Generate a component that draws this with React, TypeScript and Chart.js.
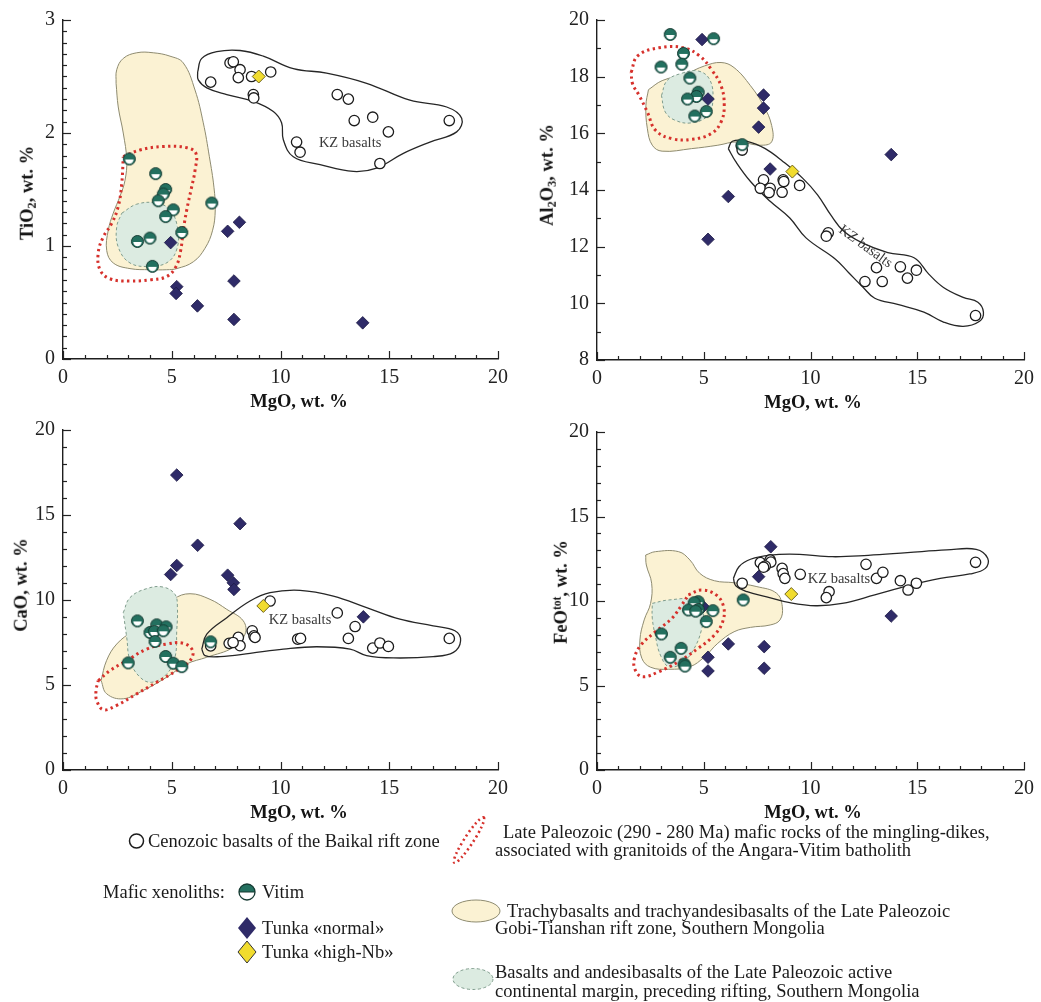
import React, { useEffect, useRef } from 'react';
import { Chart, registerables } from 'chart.js';

Chart.register(...registerables);

type Pair = [number, number];

const SERIF = '"Liberation Serif", "Times New Roman", Times, serif';

// ---------- MgO vs TiO2 ----------
const tiCenozoic: Pair[] = [
  [6.79, 2.45], [7.68, 2.62], [7.83, 2.63], [8.14, 2.56], [8.06, 2.49], [8.67, 2.5], [9.55, 2.54],
  [8.75, 2.34], [8.77, 2.31], [12.61, 2.34], [13.12, 2.3], [13.39, 2.11], [14.24, 2.14], [14.96, 2.01],
  [17.76, 2.11], [10.74, 1.92], [10.9, 1.83], [14.57, 1.73],
];
const tiVitim: Pair[] = [
  [3.05, 1.77], [4.26, 1.64], [4.72, 1.5], [4.61, 1.46], [4.38, 1.4], [5.07, 1.32], [4.72, 1.26],
  [6.84, 1.38], [5.46, 1.12], [3.42, 1.04], [4.0, 1.07], [4.11, 0.82],
];
const tiTunkaNormal: Pair[] = [
  [4.95, 1.03], [7.57, 1.13], [8.11, 1.21], [7.86, 0.69], [5.23, 0.64], [5.2, 0.58], [6.18, 0.47],
  [7.86, 0.35], [13.78, 0.32],
];
const tiTunkaHighNb: Pair[] = [[9.0, 2.5]];
const tiRiftField: Pair[] = [
  [2.44, 2.44], [2.47, 2.56], [2.77, 2.66], [3.39, 2.71], [4.15, 2.71], [4.92, 2.68], [5.53, 2.62],
  [6.07, 2.38], [6.45, 2.09], [6.73, 1.79], [6.94, 1.52], [7.0, 1.32], [6.88, 1.14], [6.53, 0.98],
  [5.99, 0.86], [5.23, 0.8], [4.77, 0.79], [4.0, 0.79], [3.08, 0.8], [2.31, 0.85], [2.01, 0.96],
  [2.08, 1.14], [2.31, 1.29], [2.62, 1.44], [2.85, 1.58], [2.93, 1.76], [2.77, 2.0], [2.54, 2.23],
  [2.44, 2.44],
];
const tiActiveMargin: Pair[] = [
  [2.7, 1.29], [3.39, 1.37], [4.31, 1.38], [4.92, 1.32], [5.26, 1.17], [5.26, 0.99], [4.84, 0.86],
  [4.0, 0.82], [3.08, 0.85], [2.54, 0.99], [2.47, 1.17], [2.7, 1.29],
];
const tiMinglingDikes: Pair[] = [
  [2.77, 1.79], [3.54, 1.85], [4.61, 1.88], [5.69, 1.87], [6.11, 1.82], [6.07, 1.67], [5.89, 1.5],
  [5.69, 1.32], [5.53, 1.14], [5.41, 0.96], [5.2, 0.82], [4.77, 0.73], [4.0, 0.7], [3.08, 0.69],
  [2.16, 0.71], [1.7, 0.79], [1.62, 0.94], [1.85, 1.08], [2.24, 1.2], [2.54, 1.35], [2.7, 1.55],
  [2.77, 1.79],
];
const tiKZ: Pair[] = [
  [6.19, 2.54], [6.38, 2.66], [7.07, 2.72], [8.14, 2.73], [9.21, 2.68], [10.59, 2.57], [12.12, 2.53],
  [13.96, 2.44], [15.95, 2.29], [17.64, 2.23], [18.33, 2.13], [18.1, 2.01], [16.87, 1.92], [15.65, 1.82],
  [14.42, 1.69], [13.35, 1.66], [11.82, 1.72], [10.59, 1.79], [10.13, 1.94], [10.05, 2.09], [9.67, 2.19],
  [8.75, 2.28], [7.53, 2.34], [6.61, 2.4], [6.22, 2.47], [6.19, 2.54],
];

// ---------- MgO vs Al2O3 ----------
const alCenozoic: Pair[] = [
  [6.76, 15.56], [6.8, 15.41], [7.8, 14.36], [7.65, 14.06], [8.11, 14.06], [8.06, 13.91], [8.72, 14.36],
  [8.75, 14.3], [8.67, 13.92], [9.49, 14.16], [10.83, 12.49], [10.74, 12.37], [13.09, 11.26],
  [12.55, 10.77], [13.36, 10.77], [14.21, 11.29], [14.54, 10.89], [14.96, 11.17], [17.73, 9.57],
];
const alVitim: Pair[] = [
  [3.43, 19.49], [5.46, 19.34], [4.05, 18.82], [3.0, 18.34], [3.97, 18.44], [4.35, 17.95], [4.74, 17.45],
  [4.66, 17.3], [4.24, 17.21], [5.12, 16.77], [4.58, 16.61], [6.8, 15.6],
];
const alTunkaNormal: Pair[] = [
  [4.92, 19.31], [5.2, 17.21], [7.8, 17.35], [7.8, 16.89], [7.57, 16.22], [8.11, 14.74], [6.15, 13.77],
  [5.2, 12.26], [13.78, 15.25],
];
const alTunkaHighNb: Pair[] = [[9.15, 14.65]];
const alRiftField: Pair[] = [
  [2.41, 17.54], [3.05, 17.86], [4.12, 18.09], [5.04, 18.38], [5.81, 18.5], [6.42, 18.32], [7.19, 17.68],
  [7.8, 16.98], [8.18, 16.28], [8.18, 15.7], [7.65, 15.58], [6.57, 15.7], [5.66, 15.58], [4.43, 15.46],
  [3.05, 15.37], [2.59, 15.58], [2.36, 16.16], [2.29, 16.98], [2.41, 17.54],
];
const alActiveMargin: Pair[] = [
  [3.02, 17.33], [3.28, 17.86], [3.97, 18.12], [4.74, 18.2], [5.27, 17.91], [5.43, 17.21], [5.2, 16.63],
  [4.43, 16.37], [3.66, 16.46], [3.2, 16.75], [3.02, 17.33],
];
const alMinglingDikes: Pair[] = [
  [1.6, 18.15], [1.9, 18.73], [2.9, 19.02], [4.05, 19.02], [4.81, 18.73], [5.35, 18.26], [5.81, 17.68],
  [5.96, 16.98], [5.81, 16.4], [5.35, 15.99], [4.43, 15.79], [3.51, 15.81], [2.74, 16.11], [2.36, 16.75],
  [1.98, 17.33], [1.67, 17.74], [1.6, 18.15],
];
const alKZ: Pair[] = [
  [6.15, 15.46], [6.34, 15.72], [7.03, 15.72], [7.88, 15.46], [8.72, 15.0], [9.64, 14.41], [10.33, 13.83],
  [10.94, 13.13], [11.55, 12.55], [12.4, 12.14], [13.62, 11.79], [14.85, 11.61], [15.54, 11.03],
  [16.23, 10.56], [17.15, 10.21], [17.84, 10.04], [18.1, 9.69], [17.92, 9.37], [17.15, 9.19], [16.23, 9.34],
  [15.31, 9.69], [14.08, 9.96], [13.01, 10.18], [12.47, 10.56], [11.78, 11.09], [11.17, 11.56],
  [9.79, 12.31], [9.03, 13.01], [8.11, 13.6], [7.19, 14.3], [6.5, 15.0], [6.15, 15.46],
];

// ---------- MgO vs CaO ----------
const caCenozoic: Pair[] = [
  [9.52, 9.94], [12.61, 9.24], [13.43, 8.44], [13.12, 7.74], [14.24, 7.17], [14.57, 7.47], [14.96, 7.27],
  [17.76, 7.74], [10.79, 7.7], [10.92, 7.74], [8.7, 8.19], [8.78, 7.89], [8.83, 7.8], [8.06, 7.8],
  [8.14, 7.31], [7.64, 7.45], [7.82, 7.5], [6.79, 7.3],
];
const caVitim: Pair[] = [
  [3.42, 8.77], [4.31, 8.54], [4.74, 8.42], [4.0, 8.09], [4.2, 8.15], [4.61, 8.19], [4.23, 7.56],
  [3.0, 6.3], [4.72, 6.68], [5.07, 6.28], [5.46, 6.08], [6.79, 7.54],
];
const caTunkaNormal: Pair[] = [
  [5.23, 17.35], [8.14, 14.49], [6.19, 13.22], [5.23, 12.03], [4.95, 11.5], [7.57, 11.46], [7.83, 11.01],
  [7.86, 10.62], [13.81, 9.01],
];
const caTunkaHighNb: Pair[] = [[9.21, 9.65]];
const caRiftField: Pair[] = [
  [1.75, 5.26], [2.0, 6.43], [2.47, 7.41], [3.23, 8.19], [4.15, 8.96], [5.07, 10.04], [5.84, 10.37],
  [6.76, 10.04], [7.53, 9.45], [8.29, 8.77], [8.37, 7.99], [7.83, 7.21], [6.61, 6.63], [5.69, 6.24],
  [4.77, 5.46], [3.69, 4.68], [2.77, 4.19], [2.01, 4.48], [1.75, 5.26],
];
const caActiveMargin: Pair[] = [
  [2.77, 9.25], [3.08, 10.14], [3.85, 10.67], [4.61, 10.76], [5.15, 10.33], [5.26, 9.55], [5.23, 8.19],
  [5.15, 6.63], [4.77, 5.65], [4.08, 5.16], [3.54, 5.46], [3.08, 6.43], [2.93, 7.8], [2.77, 9.25],
];
const caMinglingDikes: Pair[] = [
  [1.62, 5.26], [2.16, 5.85], [2.93, 6.43], [3.85, 7.11], [4.77, 7.41], [5.53, 7.45], [5.96, 7.02],
  [5.84, 6.43], [5.23, 5.85], [4.31, 5.16], [3.39, 4.48], [2.47, 3.8], [1.85, 3.55], [1.55, 4.09],
  [1.52, 4.68], [1.62, 5.26],
];
const caKZ: Pair[] = [
  [6.38, 7.11], [6.61, 7.99], [7.53, 8.96], [8.6, 9.94], [9.52, 10.43], [10.9, 10.57], [12.43, 10.23],
  [13.96, 9.55], [15.49, 8.87], [17.02, 8.48], [18.02, 8.19], [18.28, 7.6], [17.95, 6.92], [17.02, 6.67],
  [15.19, 6.59], [13.96, 6.73], [13.2, 7.11], [11.66, 7.25], [10.13, 7.11], [8.6, 6.86], [7.22, 6.67],
  [6.53, 6.73], [6.38, 7.11],
];

// ---------- MgO vs FeOtot ----------
const feCenozoic: Pair[] = [
  [7.65, 12.27], [8.11, 12.43], [8.14, 12.3], [7.88, 12.07], [7.8, 12.0], [8.67, 11.93], [8.72, 11.62],
  [8.8, 11.34], [9.52, 11.58], [6.8, 11.05], [12.6, 12.17], [13.09, 11.34], [13.39, 11.7], [14.21, 11.2],
  [14.57, 10.65], [14.96, 11.05], [17.73, 12.29], [10.87, 10.55], [10.74, 10.2],
];
const feVitim: Pair[] = [
  [4.74, 9.96], [4.55, 9.9], [4.28, 9.47], [4.74, 9.5], [4.62, 9.4], [5.43, 9.43], [5.12, 8.78],
  [6.85, 10.06], [3.02, 8.05], [3.94, 7.2], [3.43, 6.67], [4.08, 6.27], [4.12, 6.15],
];
const feTunkaNormal: Pair[] = [
  [8.14, 13.21], [7.57, 11.44], [13.78, 9.11], [6.15, 7.46], [7.83, 7.3], [5.2, 6.67], [5.2, 5.86],
  [7.83, 6.02], [4.97, 9.67],
];
const feTunkaHighNb: Pair[] = [[9.1, 10.41]];
const feRiftField: Pair[] = [
  [2.28, 12.72], [2.74, 12.92], [3.82, 12.92], [4.35, 12.43], [4.81, 11.64], [5.5, 11.2], [6.42, 11.08],
  [7.49, 10.85], [8.41, 10.46], [8.68, 9.66], [8.57, 8.88], [8.11, 8.58], [7.19, 8.44], [6.42, 8.18],
  [5.66, 7.5], [5.04, 6.7], [4.35, 6.11], [3.36, 5.96], [2.51, 6.08], [2.1, 6.61], [2.01, 7.69],
  [2.21, 8.88], [2.51, 9.86], [2.56, 11.05], [2.31, 12.13], [2.28, 12.72],
];
const feActiveMargin: Pair[] = [
  [2.59, 9.86], [3.36, 10.06], [4.58, 10.06], [4.97, 9.37], [4.89, 8.28], [4.51, 7.1], [3.97, 6.31],
  [3.36, 6.11], [2.97, 6.8], [2.74, 7.89], [2.59, 8.98], [2.59, 9.86],
];
const feMinglingDikes: Pair[] = [
  [4.28, 10.36], [4.89, 10.65], [5.58, 10.36], [5.93, 9.66], [5.89, 8.78], [5.5, 7.99], [4.74, 7.2],
  [3.82, 6.41], [2.9, 5.82], [2.13, 5.52], [1.79, 5.92], [1.75, 6.61], [2.06, 7.4], [2.74, 8.18],
  [3.51, 8.98], [3.97, 9.76], [4.28, 10.36],
];
const feKZ: Pair[] = [
  [6.39, 11.34], [6.65, 12.03], [7.19, 12.47], [8.11, 12.72], [9.49, 12.76], [11.02, 12.62], [12.7, 12.7],
  [14.54, 12.86], [16.38, 13.02], [17.76, 13.06], [18.3, 12.53], [18.19, 11.93], [17.46, 11.6],
  [16.08, 11.34], [14.54, 10.89], [13.01, 10.36], [11.48, 9.86], [10.25, 9.72], [9.03, 9.9], [7.95, 10.25],
  [7.03, 10.55], [6.5, 10.9], [6.39, 11.34],
];

// Axis ranges and tick steps (y) per panel
const tiAxis = { min: 0, max: 3, step: 1, minor: 0.1 };
const alAxis = { min: 8, max: 20, step: 2, minor: 1 };
const caAxis = { min: 0, max: 20, step: 5, minor: 1 };
const feAxis = { min: 0, max: 20, step: 5, minor: 1 };
const mgoAxis = { min: 0, max: 20, step: 5, minor: 1 };

// Anchor of the "KZ basalts" caption (data units) and its angle
const tiKzCaption = { x: 13.2, y: 1.91, rot: 0 };
const alKzCaption = { x: 12.58, y: 12.0, rot: 36 };
const caKzCaption = { x: 10.9, y: 8.83, rot: 0 };
const feKzCaption = { x: 11.33, y: 11.28, rot: 0 };

const COLORS = {
  teal: '#23705f',
  tealEdge: '#163a32',
  navy: '#2f2b68',
  yellow: '#f1dc2e',
  riftFill: '#fbf2d3',
  riftEdge: '#8e8b70',
  marginFill: '#dcebe1',
  marginEdge: '#7f9c8c',
  dikes: '#d6312c',
  ink: '#1c1c1c',
};

const xy = (a: Pair[]) => a.map(([x, y]) => ({ x, y }));

let vitimImage: HTMLCanvasElement | null = null;
function vitimMarker(): HTMLCanvasElement {
  if (vitimImage) return vitimImage;
  const c = document.createElement('canvas');
  const s = 15;
  c.width = s;
  c.height = s;
  const g = c.getContext('2d')!;
  const cx = s / 2;
  const cy = s / 2;
  const r = 6;
  g.beginPath();
  g.arc(cx, cy, r, 0, Math.PI * 2);
  g.fillStyle = COLORS.teal;
  g.fill();
  g.beginPath();
  g.arc(cx, cy + 0.6, r - 1.8, 0, Math.PI);
  g.closePath();
  g.fillStyle = '#ffffff';
  g.fill();
  g.beginPath();
  g.arc(cx, cy, r, 0, Math.PI * 2);
  g.lineWidth = 1;
  g.strokeStyle = COLORS.tealEdge;
  g.stroke();
  vitimImage = c;
  return c;
}

interface Series {
  cenozoic: Pair[];
  vitim: Pair[];
  tunkaNormal: Pair[];
  tunkaHighNb: Pair[];
  rift: Pair[];
  margin: Pair[];
  dikes: Pair[];
  kz: Pair[];
}

interface PanelLayout {
  left: number;
  top: number;
  width: number;
  height: number;
  padTop: number;
  padRight: number;
  yAxisWidth: number;
  xAxisHeight: number;
}

function buildConfig(
  s: Series,
  yAxis: { min: number; max: number; step: number; minor: number },
  caption: { x: number; y: number; rot: number },
  lay: PanelLayout,
): any {
  const region = (data: Pair[], extra: any) => ({
    data: xy(data),
    showLine: true,
    pointRadius: 0,
    pointHoverRadius: 0,
    tension: 0.4,
    cubicInterpolationMode: 'default',
    ...extra,
  });

  const axisDecor = {
    id: 'axisDecor',
    beforeDatasetsDraw(chart: any) {
      const { ctx } = chart;
      const xs = chart.scales.x;
      const ys = chart.scales.y;
      ctx.save();
      ctx.fillStyle = '#3a3a3a';
      ctx.font = `14.5px ${SERIF}`;
      ctx.textAlign = 'center';
      ctx.textBaseline = 'middle';
      ctx.translate(xs.getPixelForValue(caption.x), ys.getPixelForValue(caption.y));
      ctx.rotate((caption.rot * Math.PI) / 180);
      ctx.fillText('KZ basalts', 0, 0);
      ctx.restore();
    },
    afterDatasetsDraw(chart: any) {
      const { ctx, chartArea: a } = chart;
      const xs = chart.scales.x;
      const ys = chart.scales.y;
      ctx.save();
      ctx.strokeStyle = '#222';
      ctx.lineWidth = 1.2;
      const nx = Math.round((mgoAxis.max - mgoAxis.min) / mgoAxis.minor);
      for (let k = 0; k <= nx; k++) {
        const v = mgoAxis.min + k * mgoAxis.minor;
        const major = Math.abs(v / mgoAxis.step - Math.round(v / mgoAxis.step)) < 1e-6;
        const px = Math.round(xs.getPixelForValue(v)) + 0.5;
        ctx.beginPath();
        ctx.moveTo(px, a.bottom);
        ctx.lineTo(px, a.bottom - (major ? 8 : 4));
        ctx.stroke();
      }
      const ny = Math.round((yAxis.max - yAxis.min) / yAxis.minor);
      for (let k = 0; k <= ny; k++) {
        const v = yAxis.min + k * yAxis.minor;
        const major = Math.abs(v / yAxis.step - Math.round(v / yAxis.step)) < 1e-6;
        const py = Math.round(ys.getPixelForValue(v)) + 0.5;
        ctx.beginPath();
        ctx.moveTo(a.left, py);
        ctx.lineTo(a.left + (major ? 8 : 4), py);
        ctx.stroke();
      }
      ctx.restore();
    },
  };

  const tickFont = { family: SERIF, size: 20 };

  return {
    type: 'scatter',
    data: {
      datasets: [
        {
          label: 'Tunka «high-Nb»',
          data: xy(s.tunkaHighNb),
          pointStyle: 'rectRot',
          pointRadius: 6.5,
          pointBackgroundColor: COLORS.yellow,
          pointBorderColor: '#6f6420',
          pointBorderWidth: 1,
          order: 0,
        },
        {
          label: 'Vitim',
          data: xy(s.vitim),
          pointStyle: vitimMarker(),
          pointRadius: 6,
          order: 1,
        },
        {
          label: 'Tunka «normal»',
          data: xy(s.tunkaNormal),
          pointStyle: 'rectRot',
          pointRadius: 6.3,
          pointBackgroundColor: COLORS.navy,
          pointBorderColor: '#1d1a45',
          pointBorderWidth: 0.8,
          order: 2,
        },
        {
          label: 'Cenozoic basalts',
          data: xy(s.cenozoic),
          pointStyle: 'circle',
          pointRadius: 5.2,
          pointBackgroundColor: '#ffffff',
          pointBorderColor: COLORS.ink,
          pointBorderWidth: 1.3,
          order: 3,
        },
        region(s.kz, { fill: false, borderColor: '#262626', borderWidth: 1.3, order: 4 }),
        region(s.dikes, {
          fill: false,
          borderColor: COLORS.dikes,
          borderWidth: 3,
          borderDash: [2.4, 3.4],
          borderCapStyle: 'butt',
          order: 5,
        }),
        region(s.margin, {
          fill: 'shape',
          backgroundColor: COLORS.marginFill,
          borderColor: COLORS.marginEdge,
          borderWidth: 1,
          borderDash: [3, 2.5],
          order: 6,
        }),
        region(s.rift, {
          fill: 'shape',
          backgroundColor: COLORS.riftFill,
          borderColor: COLORS.riftEdge,
          borderWidth: 1,
          order: 7,
        }),
      ],
    },
    options: {
      responsive: false,
      maintainAspectRatio: false,
      animation: false,
      devicePixelRatio: 1,
      events: [],
      layout: { padding: { left: 0, top: lay.padTop, right: lay.padRight, bottom: 0 } },
      plugins: { legend: { display: false }, tooltip: { enabled: false } },
      scales: {
        x: {
          type: 'linear',
          position: 'bottom',
          min: mgoAxis.min,
          max: mgoAxis.max,
          afterFit: (sc: any) => {
            sc.height = lay.xAxisHeight;
          },
          grid: { display: false, drawTicks: false },
          border: { display: true, color: '#1e1e1e', width: 1.4 },
          ticks: {
            stepSize: mgoAxis.step,
            font: tickFont,
            color: '#222',
            padding: 7,
            maxRotation: 0,
            autoSkip: false,
          },
        },
        y: {
          type: 'linear',
          position: 'left',
          min: yAxis.min,
          max: yAxis.max,
          afterFit: (sc: any) => {
            sc.width = lay.yAxisWidth;
          },
          grid: { display: false, drawTicks: false },
          border: { display: true, color: '#1e1e1e', width: 1.4 },
          ticks: {
            stepSize: yAxis.step,
            font: tickFont,
            color: '#222',
            padding: 8,
            autoSkip: false,
          },
        },
      },
    },
    plugins: [axisDecor],
  };
}

function Panel(props: {
  series: Series;
  yAxis: { min: number; max: number; step: number; minor: number };
  caption: { x: number; y: number; rot: number };
  lay: PanelLayout;
}) {
  const ref = useRef<HTMLCanvasElement>(null);
  const { series, yAxis, caption, lay } = props;
  useEffect(() => {
    if (!ref.current) return;
    const chart = new Chart(ref.current, buildConfig(series, yAxis, caption, lay));
    return () => chart.destroy();
  }, []);
  return (
    <canvas
      ref={ref}
      width={lay.width}
      height={lay.height}
      style={{ position: 'absolute', left: lay.left, top: lay.top, width: lay.width, height: lay.height }}
    />
  );
}

const subStyle: React.CSSProperties = { fontSize: '0.66em', verticalAlign: '-0.28em', lineHeight: 0 };
const supStyle: React.CSSProperties = { fontSize: '0.62em', verticalAlign: '0.55em', lineHeight: 0 };

function AxisTitle(props: { x: number; y: number; rotate?: boolean; children: React.ReactNode }) {
  return (
    <div
      style={{
        position: 'absolute',
        left: props.x,
        top: props.y,
        transform: `translate(-50%, -50%)${props.rotate ? ' rotate(-90deg)' : ''}`,
        whiteSpace: 'nowrap',
        fontFamily: SERIF,
        fontWeight: 'bold',
        fontSize: 18.5,
        lineHeight: 1,
        color: '#141414',
      }}
    >
      {props.children}
    </div>
  );
}

function LegendText(props: { x: number; y: number; children: React.ReactNode }) {
  return (
    <div
      style={{
        position: 'absolute',
        left: props.x,
        top: props.y,
        transform: 'translateY(-50%)',
        whiteSpace: 'nowrap',
        fontFamily: SERIF,
        fontSize: 18.5,
        lineHeight: 1,
        color: '#1a1a1a',
      }}
    >
      {props.children}
    </div>
  );
}

function Legend() {
  return (
    <div style={{ position: 'absolute', left: 0, top: 800, width: 1041, height: 202 }}>
      <svg width={1041} height={202} style={{ position: 'absolute', left: 0, top: 0 }}>
        <circle cx={136.5} cy={41} r={7} fill="#fff" stroke={COLORS.ink} strokeWidth={1.5} />
        <path d="M 239 92 A 8 8 0 0 1 255 92 Z" fill={COLORS.teal} />
        <path d="M 239 92 A 8 8 0 0 0 255 92 Z" fill="#fff" />
        <circle cx={247} cy={92} r={8} fill="none" stroke={COLORS.tealEdge} strokeWidth={1.3} />
        <line x1={239} y1={92} x2={255} y2={92} stroke={COLORS.tealEdge} strokeWidth={1} />
        <polygon points="247,117 256,128 247,139 238,128" fill={COLORS.navy} />
        <polygon points="247,141 256,152 247,163 238,152" fill={COLORS.yellow} stroke="#333" strokeWidth={1} />
        <ellipse
          cx={469}
          cy={40}
          rx={27}
          ry={4.5}
          transform="rotate(-57 469 40)"
          fill="none"
          stroke={COLORS.dikes}
          strokeWidth={2.6}
          strokeDasharray="2 3"
        />
        <ellipse cx={476} cy={111} rx={24} ry={11} fill={COLORS.riftFill} stroke={COLORS.riftEdge} strokeWidth={1} />
        <ellipse
          cx={473}
          cy={179}
          rx={20}
          ry={10.5}
          fill={COLORS.marginFill}
          stroke={COLORS.marginEdge}
          strokeWidth={1}
          strokeDasharray="3 2.5"
        />
      </svg>
      <LegendText x={148} y={41}>Cenozoic basalts of the Baikal rift zone</LegendText>
      <LegendText x={103} y={92}>Mafic xenoliths:</LegendText>
      <LegendText x={262} y={92}>Vitim</LegendText>
      <LegendText x={262} y={128}>Tunka «normal»</LegendText>
      <LegendText x={262} y={152}>Tunka «high-Nb»</LegendText>
      <LegendText x={503} y={32}>Late Paleozoic (290 - 280 Ma) mafic rocks of the mingling-dikes,</LegendText>
      <LegendText x={495} y={50}>associated with granitoids of the Angara-Vitim batholith</LegendText>
      <LegendText x={507} y={111}>Trachybasalts and trachyandesibasalts of the Late Paleozoic</LegendText>
      <LegendText x={495} y={128}>Gobi-Tianshan rift zone, Southern Mongolia</LegendText>
      <LegendText x={495} y={172}>Basalts and andesibasalts of the Late Paleozoic active</LegendText>
      <LegendText x={495} y={191}>continental margin, preceding rifting, Southern Mongolia</LegendText>
    </div>
  );
}

const tiSeries: Series = {
  cenozoic: tiCenozoic, vitim: tiVitim, tunkaNormal: tiTunkaNormal, tunkaHighNb: tiTunkaHighNb,
  rift: tiRiftField, margin: tiActiveMargin, dikes: tiMinglingDikes, kz: tiKZ,
};
const alSeries: Series = {
  cenozoic: alCenozoic, vitim: alVitim, tunkaNormal: alTunkaNormal, tunkaHighNb: alTunkaHighNb,
  rift: alRiftField, margin: alActiveMargin, dikes: alMinglingDikes, kz: alKZ,
};
const caSeries: Series = {
  cenozoic: caCenozoic, vitim: caVitim, tunkaNormal: caTunkaNormal, tunkaHighNb: caTunkaHighNb,
  rift: caRiftField, margin: caActiveMargin, dikes: caMinglingDikes, kz: caKZ,
};
const feSeries: Series = {
  cenozoic: feCenozoic, vitim: feVitim, tunkaNormal: feTunkaNormal, tunkaHighNb: feTunkaHighNb,
  rift: feRiftField, margin: feActiveMargin, dikes: feMinglingDikes, kz: feKZ,
};

const layTi: PanelLayout = { left: 0, top: 0, width: 520, height: 400, padTop: 20, padRight: 22, yAxisWidth: 63, xAxisHeight: 41 };
const layAl: PanelLayout = { left: 520, top: 0, width: 521, height: 400, padTop: 17, padRight: 9, yAxisWidth: 77, xAxisHeight: 40 };
const layCa: PanelLayout = { left: 0, top: 410, width: 520, height: 400, padTop: 18, padRight: 22, yAxisWidth: 63, xAxisHeight: 40 };
const layFe: PanelLayout = { left: 520, top: 410, width: 521, height: 400, padTop: 22, padRight: 9, yAxisWidth: 77, xAxisHeight: 40 };

export default function App() {
  return (
    <div
      style={{
        position: 'absolute',
        left: 0,
        top: 0,
        width: 1041,
        height: 1002,
        overflow: 'hidden',
        background: '#ffffff',
      }}
    >
      <Panel series={tiSeries} yAxis={tiAxis} caption={tiKzCaption} lay={layTi} />
      <Panel series={alSeries} yAxis={alAxis} caption={alKzCaption} lay={layAl} />
      <Panel series={caSeries} yAxis={caAxis} caption={caKzCaption} lay={layCa} />
      <Panel series={feSeries} yAxis={feAxis} caption={feKzCaption} lay={layFe} />

      <AxisTitle x={27} y={193} rotate>
        TiO<span style={subStyle}>2</span>, wt. %
      </AxisTitle>
      <AxisTitle x={547} y={175} rotate>
        Al<span style={subStyle}>2</span>O<span style={subStyle}>3</span>, wt. %
      </AxisTitle>
      <AxisTitle x={21} y={585} rotate>
        CaO, wt. %
      </AxisTitle>
      <AxisTitle x={561} y={592} rotate>
        FeO<span style={supStyle}>tot</span>, wt. %
      </AxisTitle>

      <AxisTitle x={299} y={401}>MgO, wt. %</AxisTitle>
      <AxisTitle x={813} y={402}>MgO, wt. %</AxisTitle>
      <AxisTitle x={299} y={812}>MgO, wt. %</AxisTitle>
      <AxisTitle x={813} y={812}>MgO, wt. %</AxisTitle>

      <Legend />
    </div>
  );
}
